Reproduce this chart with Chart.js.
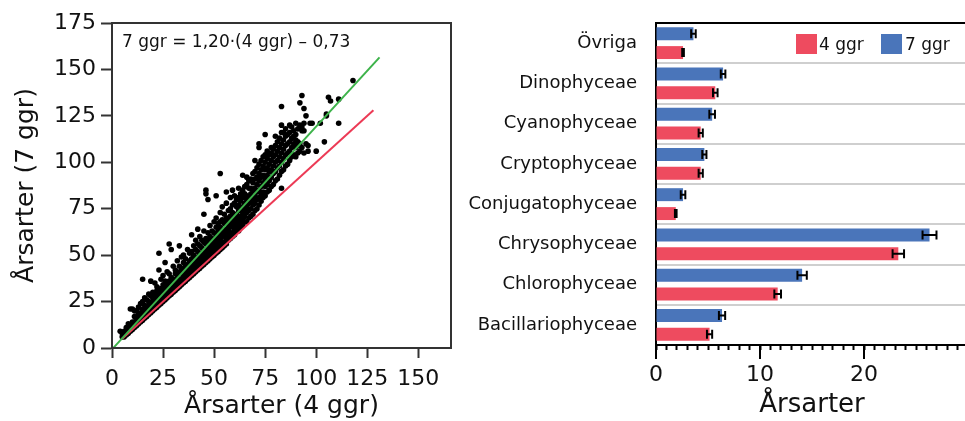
<!DOCTYPE html>
<html>
<head>
<meta charset="utf-8">
<script src="https://cdn.jsdelivr.net/npm/chart.js@4.4.1/dist/chart.umd.min.js"></script>
<style>
    html, body { margin: 0; padding: 0; background: #fff; overflow: hidden; width: 965px; height: 421px; }
    #spridningCanvas { position: absolute; left: 0; top: 0; }
    #stapelCanvas { position: absolute; left: 440px; top: 0; }
</style>
</head>
<body>
<canvas id="spridningCanvas" width="460" height="421"></canvas>
<canvas id="stapelCanvas" width="540" height="421"></canvas>
<script>
// Vänster panel: årsarter vid 4 ggr (första talet) mot 7 ggr (resten av raden)
const spridning = [
    [4, 9], [5, 6, 8], [6, 6, 7, 9], [7, 7, 8, 11], [8, 8, 9, 10, 13],
    [9, 9, 10, 12, 21], [10, 10, 11, 13, 14, 21], [11, 11, 12, 14, 17, 20],
    [12, 12, 13, 15, 16, 20], [13, 13, 14, 15, 18, 22], [14, 14, 16, 17, 19, 24],
    [15, 15, 16, 18, 21, 25, 37], [16, 16, 17, 19, 20, 23, 27], [17, 17, 18, 20, 22, 26],
    [18, 18, 19, 21, 23, 25, 29], [19, 19, 20, 22, 24, 28, 36], [20, 20, 21, 22, 25, 27, 30],
    [21, 21, 23, 24, 26, 29, 35], [22, 22, 23, 25, 28, 31, 33], [23, 23, 24, 26, 27, 30, 42, 51],
    [24, 24, 25, 27, 29, 32, 37], [25, 25, 27, 28, 30, 34, 39], [26, 26, 27, 29, 31, 33, 36, 46],
    [27, 27, 28, 30, 32, 35, 41], [28, 28, 29, 31, 34, 36, 40, 56], [29, 29, 30, 32, 33, 38, 53],
    [30, 30, 31, 33, 35, 37, 44], [31, 31, 32, 34, 36, 40, 42], [32, 32, 34, 35, 38, 41, 47],
    [33, 33, 34, 36, 37, 40, 44, 55], [34, 34, 35, 37, 40, 42, 49], [35, 35, 36, 38, 39, 43, 46, 50],
    [36, 36, 37, 39, 41, 44, 48], [37, 37, 39, 40, 43, 45, 53], [38, 38, 39, 41, 44, 47, 51],
    [39, 39, 40, 43, 45, 48, 52, 61], [40, 40, 42, 43, 46, 50, 55], [41, 41, 42, 45, 47, 49, 53, 58],
    [42, 42, 44, 46, 48, 52, 56, 64], [43, 43, 44, 47, 50, 51, 55, 60], [44, 44, 46, 48, 51, 54, 58],
    [45, 45, 46, 49, 52, 53, 57, 63, 72], [46, 46, 48, 50, 52, 56, 59, 83, 85], [47, 47, 48, 51, 54, 57, 62, 80],
    [48, 48, 50, 52, 55, 58, 60, 66], [49, 49, 51, 53, 56, 59, 63], [50, 50, 51, 54, 57, 58, 62, 68],
    [51, 51, 53, 55, 59, 61, 65, 70, 82], [52, 52, 54, 57, 60, 63, 67], [53, 53, 55, 58, 61, 65, 68, 73, 94],
    [54, 54, 57, 60, 62, 64, 69, 76], [55, 55, 57, 61, 63, 67, 72], [56, 56, 59, 62, 64, 68, 70, 78, 84],
    [57, 58, 61, 63, 66, 70, 74], [58, 59, 62, 65, 68, 71, 75, 81], [59, 60, 62, 66, 69, 73, 77, 85],
    [60, 61, 64, 67, 71, 72, 78, 82], [61, 63, 65, 69, 72, 76, 80], [62, 63, 67, 70, 74, 77, 81, 86],
    [63, 65, 68, 71, 75, 79, 83], [64, 66, 70, 73, 76, 81, 85, 93], [65, 68, 71, 75, 78, 83, 87],
    [66, 68, 73, 76, 80, 82, 88, 92], [67, 70, 74, 78, 81, 86, 90], [68, 71, 75, 79, 83, 86, 91],
    [69, 72, 77, 80, 85, 89, 94], [70, 74, 78, 82, 86, 91, 95, 101], [71, 75, 80, 84, 88, 92, 97],
    [72, 77, 81, 85, 90, 94, 99, 108, 110], [73, 79, 83, 87, 92, 96, 101], [74, 81, 84, 89, 93, 98, 103],
    [75, 82, 87, 91, 96, 100, 104, 115], [76, 84, 88, 93, 97, 102, 106], [77, 85, 90, 95, 99, 104],
    [78, 87, 92, 96, 101, 105, 108], [79, 88, 94, 98, 103, 107], [80, 90, 95, 100, 104, 109, 114],
    [81, 91, 97, 101, 106, 111], [82, 93, 98, 103, 108, 113], [83, 86, 95, 100, 105, 110, 116, 120, 130],
    [84, 96, 102, 107, 112, 116], [85, 98, 104, 109, 114, 118], [86, 99, 105, 110, 115],
    [87, 101, 106, 111, 116, 120], [88, 103, 108, 113, 119], [89, 104, 110, 114, 117],
    [90, 103, 108, 112, 115, 121], [91, 105, 109, 111, 118], [92, 106, 110, 120, 132],
    [93, 108, 117, 119, 136], [94, 105, 117, 121, 129], [95, 110, 125], [96, 106, 109],
    [97, 121], [98, 121], [100, 106], [102, 121], [104, 111], [105, 125, 126],
    [106, 135], [107, 133], [111, 121, 134], [118, 144]
];

// Linjer: 1:1 (röd) och regression 7 ggr = 1,20·(4 ggr) – 0,73 (grön)
const linje11X = [5, 128];
const linje11Y = [5, 128];
const regX = [0, 131];
const regY = [-0.73, 156.47];

const xTicksVanster = [0, 25, 50, 75, 100, 125, 150];
const yTicksVanster = [0, 25, 50, 75, 100, 125, 150, 175];

// Höger panel: medelantal årsarter per klass (±fel)
const klasser = ['Övriga', 'Dinophyceae', 'Cyanophyceae', 'Cryptophyceae',
    'Conjugatophyceae', 'Chrysophyceae', 'Chlorophyceae', 'Bacillariophyceae'];
const medel7 = [3.6, 6.45, 5.4, 4.65, 2.6, 26.3, 14.05, 6.35];
const fel7 = [0.22, 0.22, 0.27, 0.2, 0.22, 0.67, 0.45, 0.3];
const medel4 = [2.6, 5.7, 4.3, 4.3, 1.9, 23.3, 11.7, 5.15];
const fel4 = [0.08, 0.22, 0.2, 0.2, 0.08, 0.55, 0.32, 0.25];
const xEtiketterHoger = [0, 10, 20];

const ROD = '#ee4b5f';
const BLA = '#4a75ba';

Chart.defaults.font.family = '"DejaVu Sans", sans-serif';
Chart.defaults.color = '#111';

// Ram runt ritytan + valfri text
const ramPlugin = {
    id: 'ram',
    afterDraw(chart, args, opts) {
        const { ctx, chartArea: a } = chart;
        ctx.save();
        ctx.strokeStyle = opts.color;
        ctx.lineWidth = 2;
        ctx.strokeRect(a.left, a.top, a.right - a.left, a.bottom - a.top);
        if (opts.text) {
            ctx.fillStyle = '#111';
            ctx.font = '17px "DejaVu Sans"';
            ctx.textBaseline = 'alphabetic';
            ctx.fillText(opts.text, a.left + 10, a.top + 24);
        }
        ctx.restore();
    }
};

const punkter = spridning.flatMap(rad => rad.slice(1).map(y => ({ x: rad[0], y: y })));

new Chart(document.getElementById('spridningCanvas'), {
    type: 'scatter',
    data: {
        datasets: [
            {
                data: punkter,
                backgroundColor: '#000',
                borderWidth: 0,
                pointRadius: 2.8,
                order: 3
            },
            {
                type: 'line',
                data: linje11X.map((x, i) => ({ x: x, y: linje11Y[i] })),
                borderColor: '#ec3a55',
                borderWidth: 2,
                pointRadius: 0,
                order: 2
            },
            {
                type: 'line',
                data: regX.map((x, i) => ({ x: x, y: regY[i] })),
                borderColor: '#3db34a',
                borderWidth: 2,
                pointRadius: 0,
                order: 1
            }
        ]
    },
    options: {
        responsive: false,
        animation: false,
        layout: { padding: { top: 23, right: 9, left: 0, bottom: 0 } },
        plugins: {
            legend: { display: false },
            tooltip: { enabled: false },
            ram: { color: '#333', text: '7 ggr = 1,20·(4 ggr) – 0,73' }
        },
        scales: {
            x: {
                type: 'linear',
                min: 0,
                max: 166,
                afterBuildTicks: s => { s.ticks = xTicksVanster.map(v => ({ value: v })); },
                afterFit: s => { s.height = 73; },
                ticks: { font: { size: 22 }, padding: 8, maxRotation: 0 },
                grid: { drawOnChartArea: false, tickLength: 10, tickWidth: 2, tickColor: '#333' },
                border: { color: '#333', width: 2 },
                title: { display: true, text: 'Årsarter (4 ggr)', font: { size: 25 }, padding: { top: 0, bottom: 0 } }
            },
            y: {
                min: 0,
                max: 175,
                afterBuildTicks: s => { s.ticks = yTicksVanster.map(v => ({ value: v })); },
                afterFit: s => { s.width = 112; },
                ticks: { font: { size: 22 }, padding: 5 },
                grid: { drawOnChartArea: false, tickLength: 11, tickWidth: 2, tickColor: '#333' },
                border: { color: '#333', width: 2 },
                title: { display: true, text: 'Årsarter (7 ggr)', font: { size: 25 }, padding: { top: 11, bottom: 0 } }
            }
        }
    },
    plugins: [ramPlugin]
});

// Felstaplar, långa huvudstreck och förklaring i högra panelen
const felPerDataset = [fel7, fel4];
const stapelPlugin = {
    id: 'staplar',
    afterDatasetsDraw(chart) {
        const { ctx, scales: { x } } = chart;
        ctx.save();
        ctx.strokeStyle = '#000';
        ctx.lineWidth = 2;
        chart.data.datasets.forEach((ds, i) => {
            chart.getDatasetMeta(i).data.forEach((bar, j) => {
                const lo = x.getPixelForValue(ds.data[j] - felPerDataset[i][j]);
                const hi = x.getPixelForValue(ds.data[j] + felPerDataset[i][j]);
                ctx.beginPath();
                ctx.moveTo(lo, bar.y); ctx.lineTo(hi, bar.y);
                ctx.moveTo(lo, bar.y - 4.5); ctx.lineTo(lo, bar.y + 4.5);
                ctx.moveTo(hi, bar.y - 4.5); ctx.lineTo(hi, bar.y + 4.5);
                ctx.stroke();
            });
        });
        ctx.restore();
    },
    afterDraw(chart) {
        const { ctx, chartArea: a, scales: { x } } = chart;
        ctx.save();
        ctx.strokeStyle = '#000';
        ctx.lineWidth = 2;
        // ram upptill
        ctx.beginPath();
        ctx.moveTo(a.left, a.top); ctx.lineTo(a.right, a.top);
        ctx.stroke();
        // långa streck vid 0, 10, 20, 30
        [0, 10, 20, 30].forEach(v => {
            const px = x.getPixelForValue(v);
            ctx.beginPath();
            ctx.moveTo(px, a.bottom); ctx.lineTo(px, a.bottom + 14);
            ctx.stroke();
        });
        // förklaring
        ctx.font = '17px "DejaVu Sans"';
        ctx.textBaseline = 'alphabetic';
        ctx.fillStyle = ROD;
        ctx.fillRect(a.left + 140, 34, 21, 20);
        ctx.fillStyle = BLA;
        ctx.fillRect(a.left + 225, 34, 21, 20);
        ctx.fillStyle = '#111';
        ctx.fillText('4 ggr', a.left + 163, 50);
        ctx.fillText('7 ggr', a.left + 249, 50);
        ctx.restore();
    }
};

new Chart(document.getElementById('stapelCanvas'), {
    type: 'bar',
    data: {
        labels: klasser,
        datasets: [
            { label: '7 ggr', data: medel7, backgroundColor: BLA, barPercentage: 0.684, categoryPercentage: 0.94 },
            { label: '4 ggr', data: medel4, backgroundColor: ROD, barPercentage: 0.684, categoryPercentage: 0.94 }
        ]
    },
    options: {
        indexAxis: 'y',
        responsive: false,
        animation: false,
        layout: { padding: { top: 23, right: 9, left: 0, bottom: 0 } },
        plugins: {
            legend: { display: false },
            tooltip: { enabled: false }
        },
        scales: {
            x: {
                min: 0,
                max: 30,
                afterFit: s => { s.height = 76; },
                ticks: {
                    stepSize: 1,
                    autoSkip: false,
                    maxRotation: 0,
                    font: { size: 22 },
                    padding: 12,
                    callback: v => xEtiketterHoger.includes(v) ? v : ''
                },
                grid: { drawOnChartArea: false, tickLength: 5, tickWidth: 2, tickColor: '#000' },
                border: { color: '#000', width: 2 },
                title: { display: true, text: 'Årsarter', font: { size: 26 }, padding: { top: 0, bottom: 0 } }
            },
            y: {
                afterFit: s => { s.width = 216; s.paddingTop = 0; s.paddingBottom = 0; },
                ticks: { font: { size: 18 }, padding: 0 },
                grid: {
                    offset: true, color: '#cfcfcf', lineWidth: 2,
                    drawTicks: true, tickLength: 19, tickColor: 'rgba(0,0,0,0)'
                },
                border: { color: '#000', width: 2 }
            }
        }
    },
    plugins: [stapelPlugin]
});
</script>
</body>
</html>
